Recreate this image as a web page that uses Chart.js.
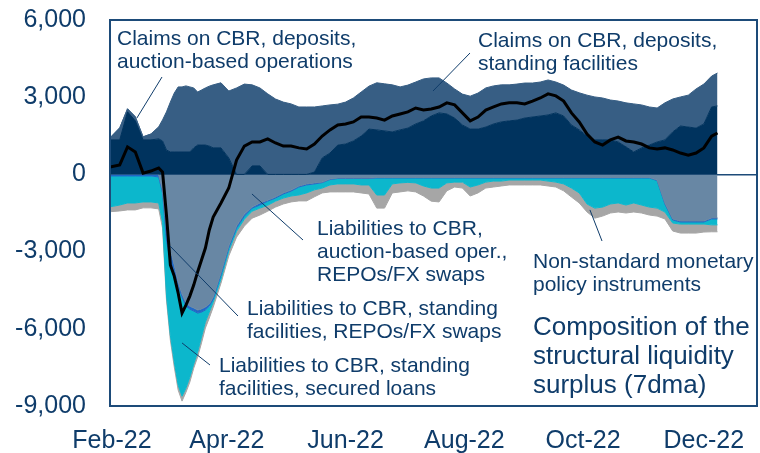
<!DOCTYPE html>
<html lang="en">
<head>
<meta charset="UTF-8">
<title>Composition of the structural liquidity surplus (7dma)</title>
<script src="https://cdn.jsdelivr.net/npm/chart.js"></script>
<style>
  html, body { margin: 0; padding: 0; background: #fff; }
</style>
</head>
<body>
<canvas id="chart" width="760" height="453"></canvas>
<script>
// days since 1 Feb 2022 (7dma readings)
const days = [-1, 4, 8, 12, 16, 20, 24, 26, 28, 30, 32, 34, 36, 38, 40, 42, 44, 46, 48, 50, 52,
  56, 60, 64, 68, 72, 76, 80, 84, 88, 92, 96, 100, 104, 108, 112, 116, 120, 124, 128, 132, 136,
  140, 144, 148, 152, 156, 160, 164, 168, 172, 176, 180, 184, 188, 192, 196, 200, 204, 208, 212,
  216, 220, 224, 228, 232, 236, 240, 244, 248, 252, 256, 260, 264, 268, 272, 276, 280, 284, 288,
  292, 296, 300, 304, 308, 311];

const tickDays = [0, 59, 120, 181, 242, 304];
const tickLabels = ['Feb-22', 'Apr-22', 'Jun-22', 'Aug-22', 'Oct-22', 'Dec-22'];

// claims on CBR, deposits, auction-based operations
const claimsAuction = [1340, 1340, 2430, 2080, 1340, 1340, 1380, 1300, 950, 870, 870, 870, 870, 870,
  870, 1030, 1140, 1140, 1140, 1100, 1030, 1030, 640, 0, 0, 330, 330, 0, 0, 0, 0, 0, 0, 90, 640, 830,
  1140, 1180, 1300, 1490, 1760, 1730, 1690, 1650, 1730, 1800, 1960, 2080, 2270, 2390, 2350, 2190,
  1920, 1760, 1760, 1840, 1960, 2040, 2080, 2110, 2190, 2230, 2270, 2310, 2390, 2270, 1920, 1730,
  1490, 1340, 1340, 1340, 1260, 1070, 870, 1030, 1140, 1260, 1340, 1650, 1880, 1840, 1800, 1960,
  2620, 2660];
// claims on CBR, deposits, standing facilities
const claimsStanding = [80, 470, 120, 160, 120, 230, 470, 820, 1480, 1940, 2290, 2530, 2530, 2570,
  2530, 2330, 2060, 2140, 2220, 2330, 2450, 2530, 2600, 3360, 3510, 3150, 3030, 3130, 2930, 2810,
  2740, 2620, 2620, 2530, 2020, 1870, 1590, 1630, 1670, 1710, 1670, 1830, 1830, 1830, 1670, 1670,
  1630, 1630, 1480, 1360, 1200, 1130, 1200, 1280, 1400, 1520, 1480, 1440, 1400, 1400, 1360, 1320,
  1320, 1360, 1200, 1200, 1360, 1440, 1590, 1670, 1630, 1550, 1590, 1710, 1870, 1670, 1480, 1320,
  1440, 1280, 1130, 1240, 1520, 1550, 1200, 1280];
// liabilities to CBR, auction-based oper., REPOs/FX swaps
const liabAuction = [0, 0, 0, 0, 0, 0, -20, -610, -2160, -2940, -3520, -4180, -4650, -5000, -5120,
  -5190, -5270, -5230, -5150, -5040, -4770, -3830, -2780, -2010, -1540, -1270, -1110, -1000, -880,
  -720, -610, -450, -370, -330, -300, -180, -140, -140, -140, -140, -140, -120, -120, -120, -120,
  -120, -120, -120, -120, -120, -120, -120, -120, -120, -120, -120, -120, -120, -120, -120, -120,
  -120, -120, -120, -120, -120, -120, -120, -120, -120, -120, -120, -120, -120, -120, -120, -120,
  -220, -1110, -1730, -1810, -1810, -1810, -1810, -1690, -1690];
// liabilities to CBR, standing facilities, REPOs/FX swaps
const liabStandingRepo = [-60, -60, -60, -60, -60, -60, -80, -120, -390, -470, -230, -160, -120,
  -120, -120, -120, -120, -120, -120, -80, -80, -80, -80, -80, -80, -40, -80, -40, -40, -40, -40,
  -40, -40, -40, -20, -20, -20, -20, -20, -20, -20, -20, -20, -20, -20, -20, -20, -20, -20, -20,
  -20, -20, -20, -20, -20, -20, -20, -20, -20, -20, -20, -20, -20, -20, -20, -20, -20, -20, -20,
  -20, -20, -20, -20, -20, -20, -20, -20, -20, -40, -40, -40, -40, -40, -40, -40, -40];
// liabilities to CBR, standing facilities, secured loans
const liabStandingLoans = [-1200, -1130, -1050, -1050, -1010, -1010, -1010, -1130, -2140, -2840,
  -3540, -3850, -3850, -3190, -2640, -2060, -1520, -970, -470, -230, -120, -160, -120, -120, -120,
  -120, -120, -160, -120, -160, -190, -310, -310, -230, -210, -210, -210, -210, -210, -250, -250,
  -660, -660, -230, -190, -170, -190, -310, -390, -390, -190, -160, -160, -350, -270, -160, -120,
  -120, -80, -80, -80, -80, -80, -120, -160, -230, -390, -580, -1010, -1170, -1130, -1010, -970,
  -1050, -970, -1050, -1130, -1070, -310, -120, -80, -80, -80, -80, -230, -230];
// non-standard monetary policy instruments
const nonStandard = [-190, -230, -270, -270, -230, -230, -230, -230, -190, -190, -190, -190, -190,
  -160, -190, -160, -190, -230, -230, -230, -190, -160, -190, -230, -270, -270, -270, -230, -230,
  -230, -230, -230, -310, -270, -190, -270, -310, -310, -310, -310, -350, -510, -510, -350, -350,
  -330, -350, -390, -510, -540, -310, -190, -230, -350, -310, -230, -230, -190, -190, -190, -190,
  -190, -190, -190, -190, -270, -350, -390, -310, -390, -350, -350, -350, -310, -350, -310, -310,
  -310, -270, -310, -350, -350, -350, -310, -270, -270];
// structural liquidity surplus
const surplus = [290, 370, 1070, 870, 50, 130, 250, 90, -1580, -3520, -3950, -4610, -5390, -5080,
  -4730, -4300, -3790, -3330, -2860, -2160, -1660, -1110, -530, 560, 1100, 1260, 1260, 1380, 1220,
  1100, 1100, 1030, 990, 1180, 1490, 1730, 1920, 1960, 2040, 2230, 2230, 2190, 2110, 2270, 2350,
  2430, 2580, 2500, 2540, 2620, 2780, 2700, 2390, 2080, 2230, 2500, 2620, 2740, 2780, 2780, 2740,
  2850, 2970, 3130, 3050, 2850, 2390, 2040, 1570, 1260, 1140, 1340, 1450, 1300, 1260, 1180, 1030,
  990, 1030, 950, 830, 750, 830, 1030, 1490, 1610];

const navy = '#0f3c6a';
const fontFamily = '"Liberation Sans", Arial, sans-serif';

const pts = vals => days.map((d, i) => ({ x: d, y: vals[i] }));

function area(label, vals, color, fill) {
  return {
    label, data: pts(vals), fill,
    backgroundColor: color, borderColor: color, borderWidth: 1,
    pointRadius: 0, tension: 0
  };
}

// drop the extra room chart.js keeps for tick labels at the scale ends
function noEdgePadding(s) {
  s.paddingTop = 0;
  s.paddingBottom = 0;
  s.paddingLeft = 0;
  s.paddingRight = 0;
}

// annotation text blocks; tip is in data units (day, value)
const notes = [
  { lines: ['Claims on CBR, deposits,', 'auction-based operations'], x: 117, y: 45, from: [162, 77], tip: [12.8, 2190] },
  { lines: ['Claims on CBR, deposits,', 'standing facilities'], x: 478, y: 47, from: [470, 53], tip: [164.9, 3240] },
  { lines: ['Liabilities to CBR,', 'auction-based oper.,', 'REPOs/FX swaps'], x: 317, y: 235, from: [303, 240], tip: [71.9, -760] },
  { lines: ['Liabilities to CBR, standing', 'facilities, REPOs/FX swaps'], x: 247, y: 315, from: [238, 316], tip: [29.8, -2780] },
  { lines: ['Liabilities to CBR, standing', 'facilities, secured loans'], x: 219, y: 372, from: [210, 365], tip: [36, -6550] },
  { lines: ['Non-standard monetary', 'policy instruments'], x: 533, y: 268, from: [602, 241], tip: [245.5, -1380] }
];
const title = ['Composition of the', 'structural liquidity', 'surplus (7dma)'];

const framePlugin = {
  id: 'frame',
  afterDatasetsDraw(chart) {
    const { ctx, chartArea: a } = chart;
    ctx.save();
    ctx.strokeStyle = '#1d4b79';
    ctx.lineWidth = 2;
    ctx.strokeRect(a.left, a.top, a.right - a.left, a.bottom - a.top);
    ctx.restore();
  }
};

const notesPlugin = {
  id: 'notes',
  afterDraw(chart) {
    const { ctx, scales } = chart;
    ctx.save();
    ctx.fillStyle = navy;
    ctx.strokeStyle = navy;
    ctx.lineWidth = 1;
    ctx.textBaseline = 'alphabetic';
    ctx.font = '21px ' + fontFamily;
    notes.forEach(n => {
      n.lines.forEach((t, i) => ctx.fillText(t, n.x, n.y + i * 23));
      ctx.beginPath();
      ctx.moveTo(n.from[0], n.from[1]);
      ctx.lineTo(scales.x.getPixelForValue(n.tip[0]), scales.y.getPixelForValue(n.tip[1]));
      ctx.stroke();
    });
    ctx.font = '26px ' + fontFamily;
    title.forEach((t, i) => ctx.fillText(t, 533, 335 + i * 29));
    ctx.restore();
  }
};

new Chart(document.getElementById('chart'), {
  type: 'line',
  data: {
    datasets: [
      {
        label: 'Structural liquidity surplus', data: pts(surplus), stack: 'net', fill: false,
        borderColor: '#000', borderWidth: 3, pointRadius: 0, tension: 0
      },
      area('Claims on CBR, deposits, auction-based operations', claimsAuction, '#00335e', 'origin'),
      area('Claims on CBR, deposits, standing facilities', claimsStanding, '#375e84', '-1'),
      area('Liabilities to CBR, auction-based oper., REPOs/FX swaps', liabAuction, '#6887a4', 'origin'),
      area('Liabilities to CBR, standing facilities, REPOs/FX swaps', liabStandingRepo, '#2168c6', '-1'),
      area('Liabilities to CBR, standing facilities, secured loans', liabStandingLoans, '#0cb7cc', '-1'),
      area('Non-standard monetary policy instruments', nonStandard, '#a6a6a6', '-1')
    ]
  },
  options: {
    responsive: false,
    animation: false,
    devicePixelRatio: 1,
    layout: { padding: { top: 20, right: 3, left: 0, bottom: 0 } },
    plugins: { legend: { display: false }, tooltip: { enabled: false } },
    scales: {
      x: {
        type: 'linear',
        min: -1,
        max: 331.3,
        afterBuildTicks: s => { s.ticks = tickDays.map(v => ({ value: v })); },
        ticks: {
          callback: (v, i) => tickLabels[i],
          autoSkip: false, maxRotation: 0, padding: 20,
          color: navy, font: { family: fontFamily, size: 25 }
        },
        grid: { display: false, drawTicks: false },
        border: { display: false },
        afterFit: s => { s.height = 47; noEdgePadding(s); }
      },
      y: {
        stacked: true,
        min: -9000,
        max: 6000,
        ticks: { stepSize: 3000, padding: 24, color: navy, font: { family: fontFamily, size: 25 } },
        grid: {
          drawTicks: false,
          lineWidth: 1.5,
          color: c => (c.tick && c.tick.value === 0 ? '#1d4b79' : 'rgba(0,0,0,0)')
        },
        border: { display: false },
        afterFit: s => { s.width = 110; noEdgePadding(s); }
      }
    }
  },
  plugins: [framePlugin, notesPlugin]
});
</script>
</body>
</html>
